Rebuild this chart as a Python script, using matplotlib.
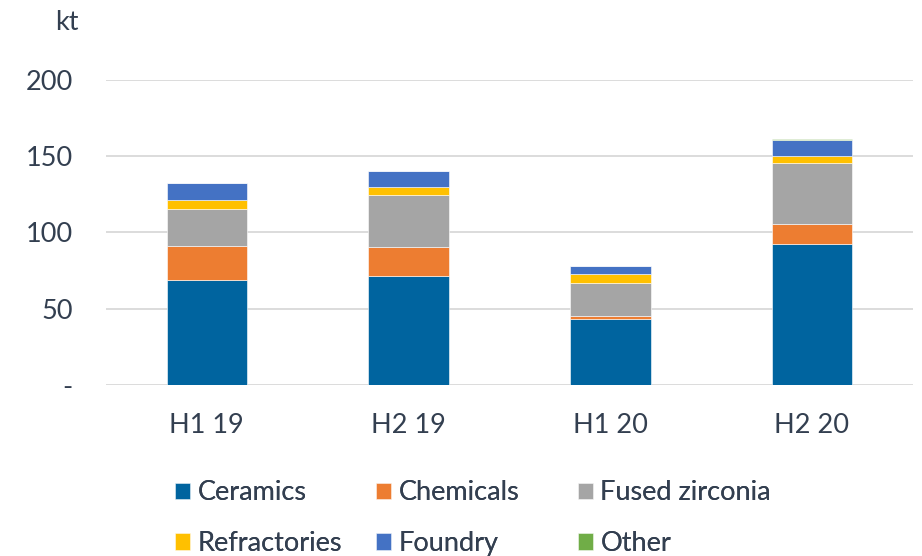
import numpy as np
import matplotlib.pyplot as plt

plt.rcParams['font.family'] = ['Lato', 'DejaVu Sans']

# data (kt)
periods = ['H1 19', 'H2 19', 'H1 20', 'H2 20']
ceramics = [68.9, 71.5, 43.1, 92.2]
chemicals = [22.2, 18.8, 2.3, 13.6]
fused_zirconia = [24.1, 34.5, 21.3, 39.8]
refractories = [6.1, 5.2, 5.9, 4.8]
foundry = [10.9, 10.3, 5.2, 10.5]
other = [0.5, 0.2, 0.1, 0.2]

series = [ceramics, chemicals, fused_zirconia, refractories, foundry, other]
names = ['Ceramics', 'Chemicals', 'Fused zirconia', 'Refractories', 'Foundry', 'Other']
colors = ['#00649F', '#ED7D31', '#A5A5A5', '#FFC000', '#4472C4', '#70AD47']

txt = '#333F50'
fs = 19.5

fig = plt.figure(figsize=(9.22, 5.56), dpi=100)
ax = fig.add_axes([0.115, 0.3076, 0.875, 0.5485])

x = np.arange(len(periods))
bottom = np.zeros(len(periods))
handles = []
for vals, name, c in zip(series, names, colors):
    h = ax.bar(x, vals, width=0.4, bottom=bottom, color=c, label=name,
               edgecolor='white', linewidth=0.4, zorder=3)
    handles.append(h)
    bottom += np.array(vals)

ax.set_xlim(-0.5, 3.5)
ax.set_ylim(0, 200)
ax.set_yticks([0, 50, 100, 150, 200])
ax.set_yticklabels(['-', '50', '100', '150', '200'])
ax.set_xticks(x)
ax.set_xticklabels(periods)
ax.grid(axis='y', color='#D9D9D9', linewidth=1.3, zorder=0)
ax.set_axisbelow(True)
for s in ax.spines.values():
    s.set_visible(False)
ax.tick_params(length=0, labelsize=fs, colors=txt)
ax.tick_params(axis='y', pad=24)
ax.tick_params(axis='x', pad=20)

fig.text(0.060, 0.96, 'kt', fontsize=fs, color=txt, ha='left', va='center')

# legend: three fixed columns, two rows each
col_x = [175 / 922, 376 / 922, 578 / 922]
for i, cx in enumerate(col_x):
    idx = [i, i + 3]
    leg = fig.legend([handles[j] for j in idx], [names[j] for j in idx],
                     loc='upper left', bbox_to_anchor=(cx, 0.136),
                     frameon=False, fontsize=fs, labelcolor=txt,
                     handlelength=0.55, handleheight=0.55, handletextpad=0.28,
                     labelspacing=0.95, borderpad=0, borderaxespad=0)
    fig.add_artist(leg)

fig.savefig('out.png', dpi=100)
